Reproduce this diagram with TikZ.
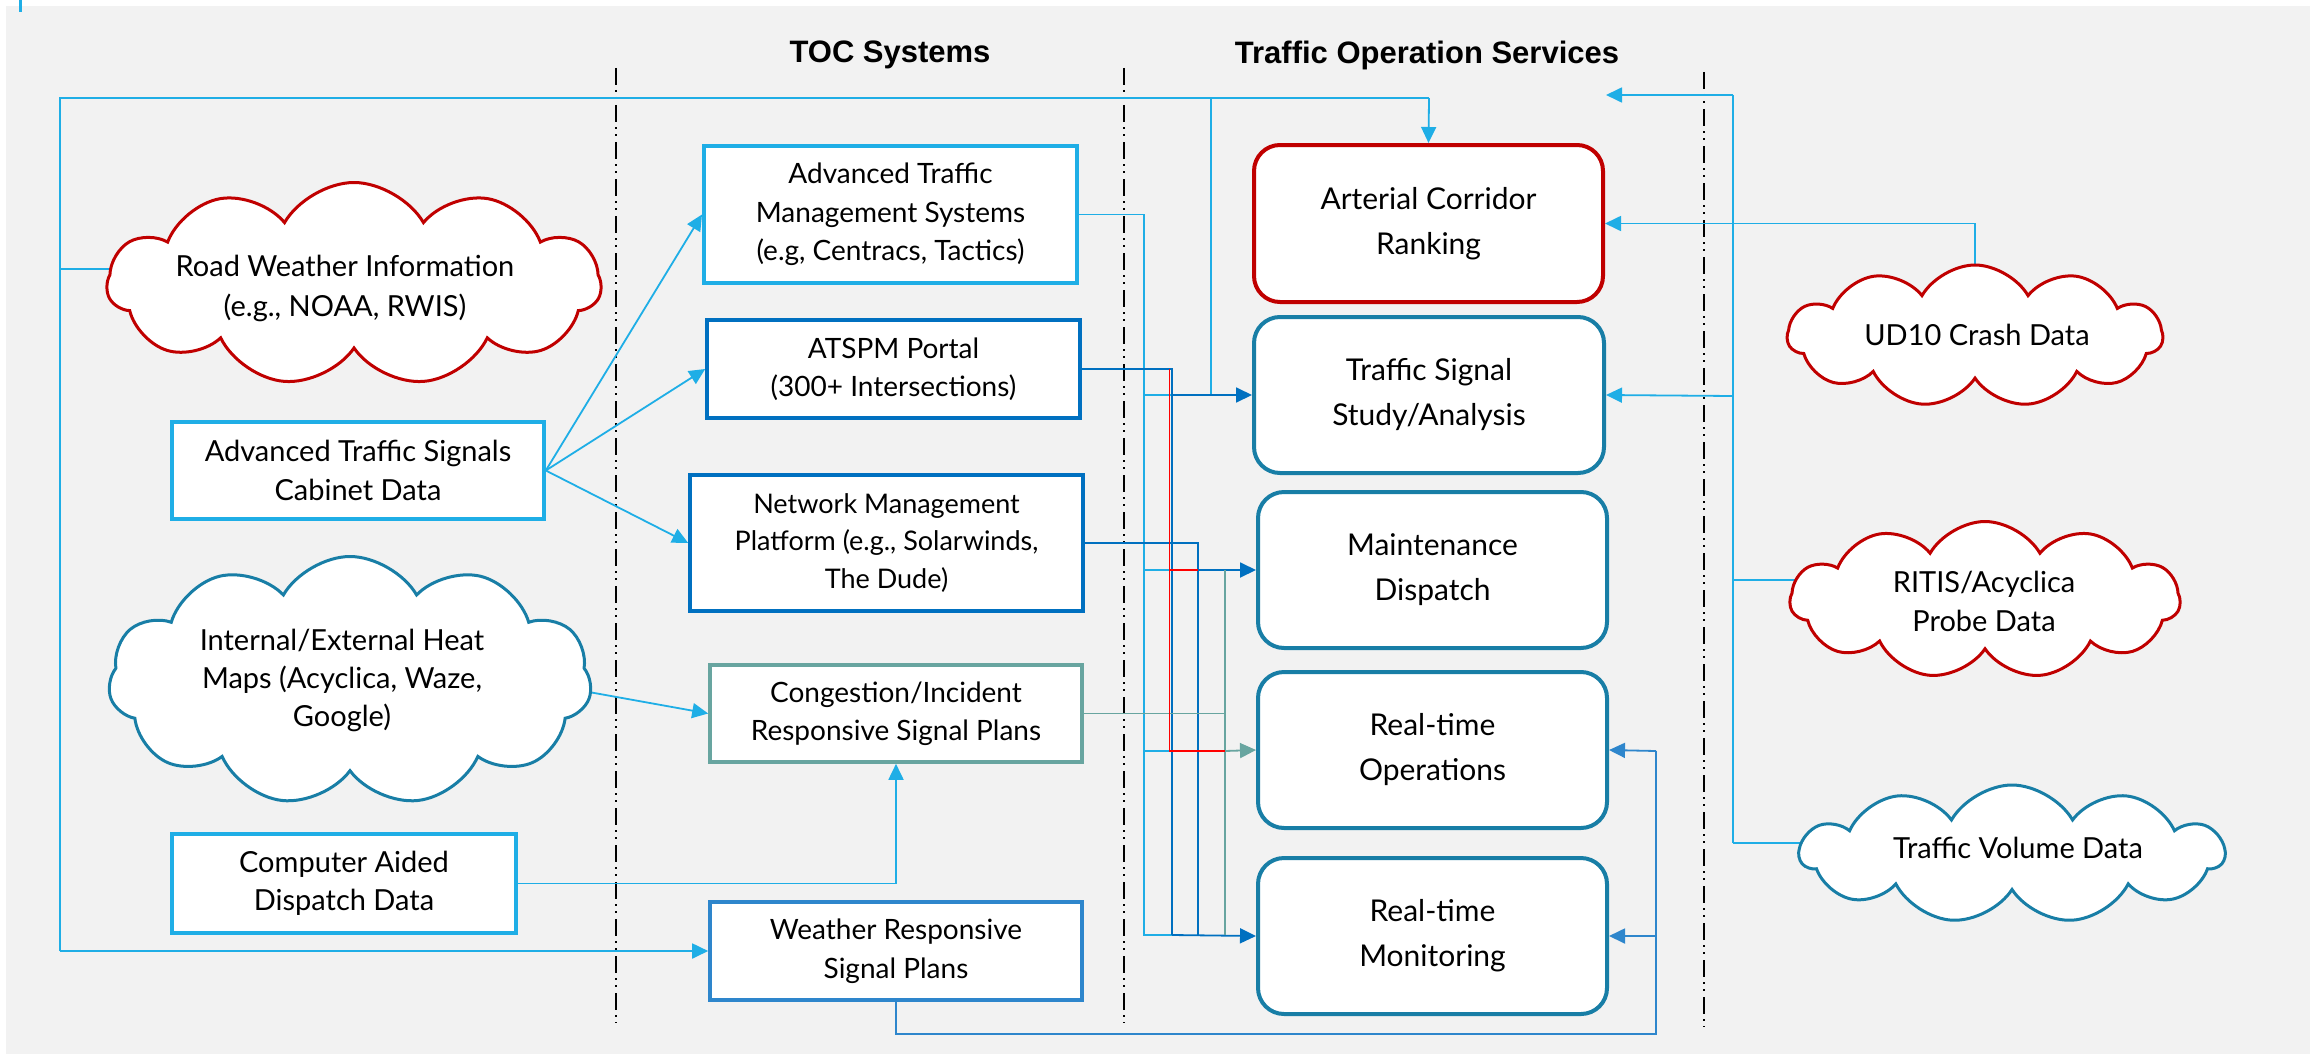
\documentclass[tikz,border=0pt]{standalone}
\usepackage{fontspec}
\setmainfont{Lato}
\newfontfamily\headfont{Liberation Sans}
\usetikzlibrary{arrows.meta,shapes.symbols}

\pgfdeclarelayer{bg}
\pgfdeclarelayer{wires}
\pgfsetlayers{bg,wires,main}

\definecolor{bggrey}{RGB}{242,242,242}
\definecolor{skyblue}{RGB}{31,174,230}
\definecolor{darkblue}{RGB}{0,112,192}
\definecolor{wxblue}{RGB}{46,134,204}
\definecolor{tealgrey}{RGB}{104,165,160}
\definecolor{svcblue}{RGB}{24,126,166}
\definecolor{darkred}{RGB}{192,0,0}
\definecolor{linered}{RGB}{255,0,0}

\tikzset{
  srcbox/.style={rectangle, draw=#1, fill=white, line width=1.8pt, align=center,
    inner sep=0pt, font=\fontsize{14}{19.25}\selectfont},
  svcbox/.style={rectangle, rounded corners=13pt, draw=#1, fill=white, line width=2pt,
    align=center, inner sep=0pt, font=\fontsize{15}{22.5}\selectfont},
  puffy/.style={cloud, cloud puffs=11, cloud puff arc=120, cloud ignores aspect,
    draw=#1, fill=white, line width=1.5pt, inner sep=0pt},
  cloudtext/.style={align=center, inner sep=0pt},
  wire/.style={line width=0.9pt, draw=#1},
  arrowed/.style={-{Triangle[length=8pt,width=7.5pt]}},
  divider/.style={black, line width=1.2pt,
    dash pattern=on 8.5pt off 2.5pt on 1pt off 2.5pt on 1pt off 3pt},
  header/.style={font=\headfont\bfseries\fontsize{15.5}{18}\selectfont, inner sep=0pt}
}

\begin{document}
\begin{tikzpicture}[x=0.5pt,y=-0.5pt]
\useasboundingbox (0,0) rectangle (2310,1054);

\begin{pgfonlayer}{bg}
  \fill[white] (0,0) rectangle (2310,1054);
  \fill[bggrey] (6,6) rectangle (2310,1054);
  \draw[skyblue, line width=1.5pt] (20,0) -- (20,12);
  \draw[divider] (616,68) -- (616,1023);
  \draw[divider] (1124,68) -- (1124,1023);
  \draw[divider] (1704,72) -- (1704,1027);
\end{pgfonlayer}

% column headers
\node[header] (toc) at (890,55) {TOC Systems};
\node[header] (tos) at (1427,55) {Traffic Operation Services};

% data sources (left)
\node[puffy=darkred, minimum width=247pt, minimum height=101.5pt] (rw) at (354,284) {};
\node[cloudtext, font=\fontsize{14.5}{20}\selectfont] (rwtext) at (345,288)
  {Road Weather Information\\(e.g., NOAA, RWIS)};
\node[srcbox=skyblue, font=\fontsize{14.5}{19.5}\selectfont, minimum width=186pt, minimum height=48.5pt] (atsc) at (358,470.5)
  {Advanced Traffic Signals\\Cabinet Data};
\node[puffy=svcblue, minimum width=241.5pt, minimum height=124.5pt] (hm) at (350,681) {};
\node[cloudtext, font=\fontsize{14.5}{19}\selectfont] (hmtext) at (342,680)
  {Internal/External Heat\\Maps (Acyclica, Waze,\\Google)};
\node[srcbox=skyblue, font=\fontsize{14.5}{19}\selectfont, minimum width=172pt, minimum height=49.5pt] (cad) at (344,883.5)
  {Computer Aided\\Dispatch Data};

% TOC systems (middle)
\node[srcbox=skyblue, line width=2pt, minimum width=186.5pt, minimum height=68.5pt] (atms) at (890.5,214.5)
  {Advanced Traffic\\Management Systems\\(e.g, Centracs, Tactics)};
\node[srcbox=darkblue, minimum width=186.5pt, minimum height=49pt] (atspm) at (893.5,369)
  {ATSPM Portal\\(300+ Intersections)};
\node[srcbox=darkblue, font=\fontsize{13.5}{18.75}\selectfont, minimum width=196.5pt, minimum height=68pt] (nmp) at (886.5,543)
  {Network Management\\Platform (e.g., Solarwinds,\\The Dude)};
\node[srcbox=tealgrey, minimum width=186pt, minimum height=48.5pt] (cisp) at (896,713.5)
  {Congestion/Incident\\Responsive Signal Plans};
\node[srcbox=wxblue, minimum width=186pt, minimum height=49pt] (wrsp) at (896,951)
  {Weather Responsive\\Signal Plans};

% traffic operation services (right)
\node[svcbox=darkred, minimum width=174.5pt, minimum height=78.5pt] (acr) at (1428.5,223.5)
  {Arterial Corridor\\Ranking};
\node[svcbox=svcblue, minimum width=175pt, minimum height=78pt] (tssa) at (1429,395)
  {Traffic Signal\\Study/Analysis};
\node[svcbox=svcblue, minimum width=174.5pt, minimum height=78pt] (md) at (1432.5,570)
  {Maintenance\\Dispatch};
\node[svcbox=svcblue, minimum width=174.5pt, minimum height=78pt] (rto) at (1432.5,750)
  {Real-time\\Operations};
\node[svcbox=svcblue, minimum width=174.5pt, minimum height=78pt] (rtm) at (1432.5,936)
  {Real-time\\Monitoring};

% external data (far right)
\node[puffy=darkred, minimum width=187.5pt, minimum height=71pt] (ud) at (1975,336) {};
\node[cloudtext, font=\fontsize{14.5}{19.5}\selectfont] (udtext) at (1977,335) {UD10 Crash Data};
\node[puffy=darkred, minimum width=195pt, minimum height=78.5pt] (ritis) at (1985,600) {};
\node[cloudtext, font=\fontsize{14.5}{19.5}\selectfont] (ritistext) at (1984,601)
  {RITIS/Acyclica\\Probe Data};
\node[puffy=svcblue, minimum width=212pt, minimum height=69pt] (tv) at (2012,854) {};
\node[cloudtext, font=\fontsize{14.5}{19.5}\selectfont] (tvtext) at (2018,848) {Traffic Volume Data};

\coordinate (probetip) at (1606,95);

\begin{pgfonlayer}{wires}
  % weather information bus on the far left
  \draw[wire=skyblue] (rw.center |- 60,269) -- (60,269);
  \draw[wire=skyblue] (60,951) -- (60,98) -- (1429,98);
  \draw[wire=skyblue, arrowed] (1429,98) -- (acr.north);
  \draw[wire=skyblue] (1211,98) -- (1211,395);
  \draw[wire=skyblue, arrowed] (60,951) -- (wrsp.west);

  % cabinet data fan-out
  \draw[wire=skyblue, arrowed] (atsc.east) -- (atms.west);
  \draw[wire=skyblue, arrowed] (atsc.east) -- (atspm.west);
  \draw[wire=skyblue, arrowed] (atsc.east) -- (nmp.west);

  % heat maps and CAD into congestion plans
  \draw[wire=skyblue, arrowed] ([xshift=50pt,yshift=7pt]hm.center) -- (cisp.west);
  \draw[wire=skyblue, arrowed] (cad.east) -| (cisp.south);

  % ATMS feed
  \draw[wire=skyblue] (atms.east) -| (1144,935) -- (1172,935);
  \draw[wire=skyblue] (1144,395) -- (1172,395);
  \draw[wire=skyblue] (1144,570) -- (1170,570);
  \draw[wire=skyblue] (1144,751) -- (1170,751);

  % ATSPM feed
  \draw[wire=darkblue] (atspm.east) -- (1172,369) -- (1172,935);
  \draw[wire=darkblue, arrowed] (1172,935) -- (rtm.west);
  \draw[wire=darkblue, arrowed] (1172,395) -- (tssa.west);

  % network management feed
  \draw[wire=darkblue] (nmp.east) -- (1198,543) -- (1198,935);
  \draw[wire=darkblue, arrowed] (1198,570) -- (md.west);

  % congestion plans feed
  \draw[wire=tealgrey] (cisp.east) -- (1225,713.5);
  \draw[wire=tealgrey] (1225,570) -- (1225,935);
  \draw[wire=tealgrey, arrowed] (1225,751) -- (rto.west);

  % ATSPM alert path
  \draw[wire=linered] (1169.5,369) -- (1169.5,751) -- (1225,751);
  \draw[wire=linered] (1169.5,570) -- (1198,570);

  % weather plans loop back
  \draw[wire=wxblue] (wrsp.south) -- (896,1034) -- (1656,1034) -- (1656,751);
  \draw[wire=wxblue, arrowed] (1656,751) -- (rto.east);
  \draw[wire=wxblue, arrowed] (1656,936) -- (rtm.east);

  % crash data
  \draw[wire=skyblue, arrowed] (ud.center) |- (acr.east);

  % probe and volume data bus
  \draw[wire=skyblue] (1733,95) -- (1733,843);
  \draw[wire=skyblue, arrowed] (1733,95) -- (probetip);
  \draw[wire=skyblue, arrowed] (1733,396) -- (tssa.east);
  \draw[wire=skyblue] (ritis.center |- 1733,580) -- (1733,580);
  \draw[wire=skyblue] (tv.center |- 1733,843) -- (1733,843);
\end{pgfonlayer}
\end{tikzpicture}
\end{document}
